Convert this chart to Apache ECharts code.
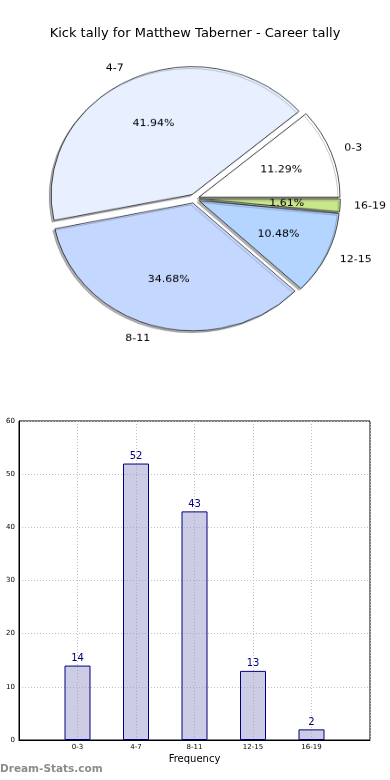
<!DOCTYPE html>
<html>
<head>
<meta charset="utf-8">
<script src="https://cdn.jsdelivr.net/npm/echarts@6/dist/echarts.min.js"></script>
<style>
html,body{margin:0;padding:0;background:#fff;}
#main{position:absolute;left:0;top:0;width:390px;height:780px;}
#pie{position:absolute;left:0;top:0;width:390px;height:440px;transform:scaleY(0.907);transform-origin:0 0;}
</style>
</head>
<body>
<div id="main"></div>
<div id="pie"></div>
<script>
const titleText = 'Kick tally for Matthew Taberner - Career tally';
const categories = ['0-3', '4-7', '8-11', '12-15', '16-19'];
const counts = [14, 52, 43, 13, 2];
const sliceColors = ['#ffffff', '#e8f0ff', '#c4d8ff', '#b3d5ff', '#c8e68a'];
const yTicks = [0, 10, 20, 30, 40, 50, 60];
const xAxisName = 'Frequency';
const watermark = 'Dream-Stats.com';

const FONT = 'DejaVu Sans';

const main = echarts.init(document.getElementById('main'), null, {renderer: 'canvas'});
main.setOption({
  animation: false,
  backgroundColor: '#ffffff',
  title: {
    text: titleText, left: 'center', top: 22,
    textStyle: {fontFamily: FONT, fontSize: 13, fontWeight: 'normal', color: '#000'}
  },
  graphic: [{
    type: 'text', left: 0, top: 764,
    style: {text: watermark, font: 'bold 10.5px ' + FONT, fill: '#8c8c8c'}
  }],
  grid: {left: 19, right: 20, top: 421, bottom: 40, show: true, borderColor: '#000', borderWidth: 1, containLabel: false},
  xAxis: {
    type: 'value', min: -1, max: 5, interval: 1,
    name: xAxisName, nameLocation: 'middle', nameGap: 14,
    nameTextStyle: {fontFamily: FONT, fontSize: 10, color: '#000'},
    axisLine: {show: true, onZero: false, lineStyle: {color: '#000'}},
    axisTick: {show: false},
    axisLabel: {
      fontFamily: FONT, fontSize: 7, color: '#000', margin: 4,
      formatter: v => (v >= 0 && v < categories.length && Number.isInteger(v)) ? categories[v] : ''
    },
    splitLine: {show: true, lineStyle: {color: '#c0c0c0', type: [1, 2], width: 1}}
  },
  yAxis: {
    type: 'value', min: yTicks[0], max: yTicks[yTicks.length - 1], interval: 10,
    axisLine: {show: true, onZero: false, lineStyle: {color: '#000'}},
    axisTick: {show: false},
    axisLabel: {fontFamily: FONT, fontSize: 7, color: '#000', margin: 4},
    splitLine: {show: true, lineStyle: {color: '#c0c0c0', type: [1, 2], width: 1}}
  },
  series: [{
    type: 'bar',
    barWidth: 26,
    data: counts.map((v, i) => [i, v]),
    itemStyle: {color: 'rgba(153,153,204,0.5)', borderColor: '#000080', borderWidth: 1},
    label: {show: true, position: 'top', distance: 2, fontFamily: FONT, fontSize: 10, color: '#000080',
      formatter: p => p.value[1]}
  }]
});

const pieData = categories.map((c, i) => ({name: c, value: counts[i], selected: true,
  itemStyle: {color: sliceColors[i]}}));
const pie = echarts.init(document.getElementById('pie'), null, {renderer: 'canvas'});
const CX = 194.3, CY = 219, R = 141, OFF = 5;
pie.setOption({
  animation: false,
  series: [{
    type: 'pie',
    center: [CX, CY], radius: [0, R],
    startAngle: 0, clockwise: false,
    selectedMode: 'multiple', selectedOffset: OFF,
    avoidLabelOverlap: false,
    emphasis: {disabled: true},
    itemStyle: {borderColor: '#000', borderWidth: 0.7,
      shadowColor: 'rgba(0,0,0,0.3)', shadowBlur: 0, shadowOffsetX: -2, shadowOffsetY: 2},
    label: {show: true, position: 'outside', alignTo: 'none', distanceToLabelLine: 0,
      fontFamily: FONT, fontSize: 11, color: '#000', formatter: '{b}'},
    labelLine: {show: false, length: 14, length2: 0},
    data: pieData
  }, {
    type: 'pie',
    center: [CX, CY], radius: [80, 89.2],
    startAngle: 0, clockwise: false,
    selectedMode: 'multiple', selectedOffset: OFF,
    silent: true,
    emphasis: {disabled: true},
    itemStyle: {color: 'rgba(0,0,0,0)', borderWidth: 0},
    label: {show: true, position: 'inside', fontFamily: FONT, fontSize: 11, color: '#000', formatter: '{d}%'},
    labelLine: {show: false},
    data: categories.map((c, i) => ({name: c, value: counts[i], selected: true}))
  }]
});
</script>
</body>
</html>
